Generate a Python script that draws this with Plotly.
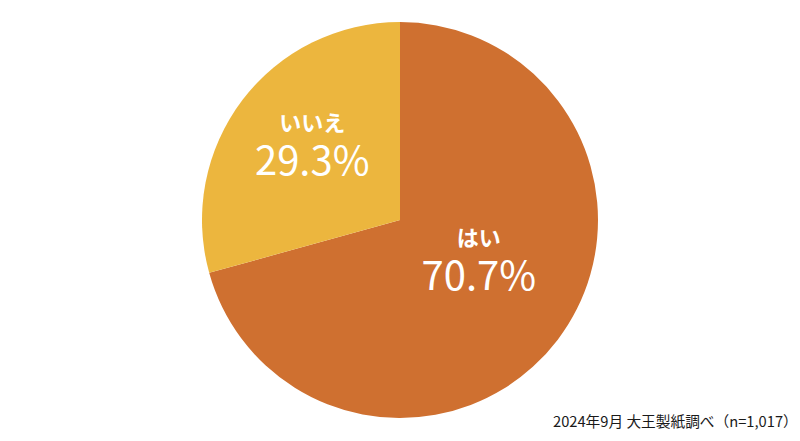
import plotly.graph_objects as go

labels = ["はい", "いいえ"]
values = [70.7, 29.3]
colors = ["#CF7030", "#ECB63E"]
source_note = "2024年9月 大王製紙調べ（n=1,017）"

# blank lines appended per slice, nudges each label block upward
spacer_lines = [2, 1]

templates = [
    "<span style='font-size:22px'><b>%{label}</b></span><br><br>"
    "<span style='font-size:40px'>%{value:.1f}%</span>"
    + "<br>\u00a0" * n
    for n in spacer_lines
]

fig = go.Figure()
fig.add_trace(go.Pie(
    labels=labels,
    values=values,
    sort=False,
    direction="clockwise",
    rotation=0,
    marker=dict(colors=colors, line=dict(width=0)),
    texttemplate=templates,
    textposition="inside",
    insidetextorientation="horizontal",
    textfont=dict(family="Noto Sans CJK JP", size=17, color="white"),
    hoverinfo="label+percent",
    showlegend=False,
))

# page body has an 8px margin, so the margins below are shifted to compensate
fig.add_annotation(
    text=source_note, xref="paper", yref="paper", x=1, y=0,
    xanchor="right", yanchor="middle", xshift=8, yshift=-2, showarrow=False,
    font=dict(family="Noto Sans CJK JP", size=14.7, color="#1a1a1a"),
)

fig.update_layout(
    width=800, height=441,
    margin=dict(l=0, r=16, t=14, b=31),
    paper_bgcolor="white", plot_bgcolor="white",
)

fig.write_html("out.html")
